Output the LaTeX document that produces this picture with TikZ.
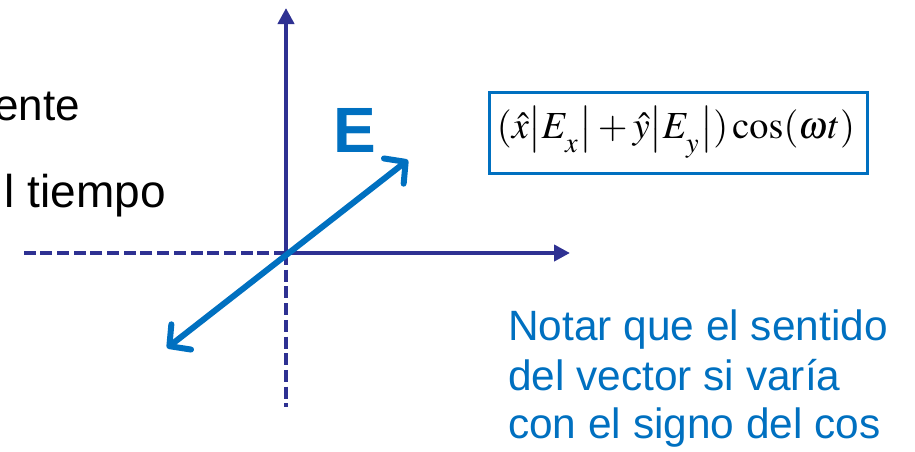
\documentclass[tikz,border=0pt]{standalone}
\usepackage{mathptmx}
\usepackage{fontspec}
\setsansfont{Liberation Sans}
\newfontfamily\arial{Liberation Sans}
\usetikzlibrary{arrows.meta}
\definecolor{navy}{RGB}{46,49,146}
\definecolor{vblue}{RGB}{0,112,192}
\tikzset{
  axis/.style={draw=navy, line width=4pt, -{Triangle[length=16pt,width=16pt]}},
  dashaxis/.style={draw=navy, line width=4pt, dash pattern=on 12pt off 4.7pt},
  vec/.style={draw=vblue, line width=6pt, line cap=round, {Straight Barb[length=15pt,width=32pt,round]}-{Straight Barb[length=15pt,width=32pt,round]}},
  bodytext/.style={font=\arial\fontsize{44}{50}\selectfont, inner sep=0pt},
  note/.style={font=\arial\fontsize{42.4}{49}\selectfont, text=vblue, inner sep=0pt, align=left},
  formbox/.style={draw=vblue, line width=3pt, minimum width=378pt, minimum height=81pt, inner sep=0pt}
}
\newcommand{\tbar}{\mathrel{\rule[-0.42em]{0.06em}{1.45em}}}
\begin{document}
\begin{tikzpicture}[x=1pt,y=-1pt]
\useasboundingbox (0,0) rectangle (915,451);
\coordinate (O) at (286,253);
\coordinate (yTop) at (286,8);
\coordinate (xRight) at (570,253);
\coordinate (xLeft) at (24,253);
\coordinate (yBot) at (286,407);
\coordinate (vA) at (167,348);
\coordinate (vB) at (408,160);
\draw[dashaxis] (O) -- (xLeft);
\draw[dashaxis] (O) -- (yBot);
\draw[axis] (O) -- (yTop);
\draw[axis] (O) -- (xRight);
\draw[vec] (vA) -- (vB);
\node[font=\arial\bfseries\fontsize{64}{64}\selectfont, text=vblue, inner sep=0pt] (E) at (355,130) {E};
\node[bodytext, anchor=base east] (t1) at (80,120) {ente};
\node[bodytext, font=\arial\fontsize{46}{50}\selectfont, anchor=base east] (t2) at (166,207) {l tiempo};
\node[formbox] (box) at (678,133) {};
\node[inner sep=0pt] (form) at (676,132) {\resizebox{358pt}{!}{$(\hat{x}\big|E_{\raisebox{-2pt}{$\scriptstyle x$}}\big|+\hat{y}\big|E_{\raisebox{-2pt}{$\scriptstyle y$}}\big|)\cos(\omega t)$}};
\node[note, anchor=base west] (n1) at (508,340) {Notar que el sentido};
\node[note, anchor=base west] (n2) at (508,390) {del vector si varía};
\node[note, anchor=base west] (n3) at (508,438) {con el signo del cos};
\end{tikzpicture}
\end{document}
